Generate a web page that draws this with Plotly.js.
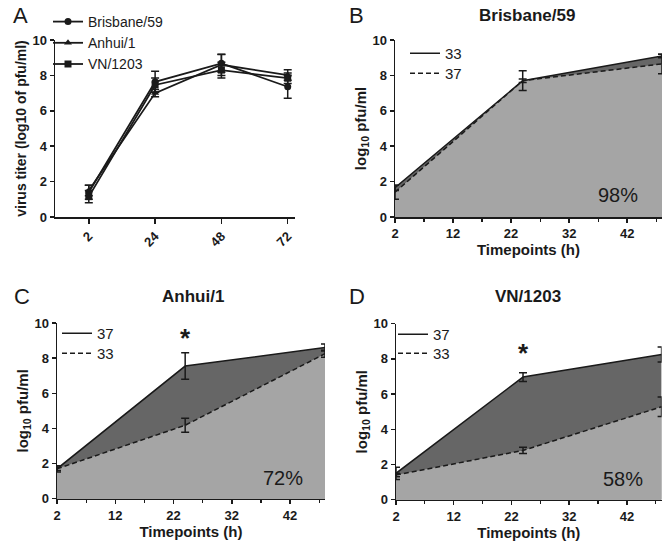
<!DOCTYPE html>
<html>
<head>
<meta charset="utf-8">
<script src="https://cdn.plot.ly/plotly-3.0.1.min.js"></script>
<style>html,body{margin:0;padding:0;background:#fff}#chart{width:670px;height:544px}</style>
</head>
<body>
<div id="chart"></div>
<script>
// ---------- Panel A data ----------
const timeA = ['2', '24', '48', '72'];
const brisbaneA = [1.4, 7.64, 8.68, 7.36];
const brisbaneAErr = [0.4, 0.6, 0.5, 0.65];
const anhuiA = [1.5, 7.0, 8.6, 8.02];
const anhuiAErr = [0.3, 0.2, 0.6, 0.3];
const vnA = [1.15, 7.46, 8.3, 7.84];
const vnAErr = [0.35, 0.4, 0.45, 0.3];

// ---------- Panels B-D data ----------
const timeBCD = [2, 24, 48];
// B: Brisbane/59
const b33 = [1.65, 7.7, 9.1];
const b33Err = [0.15, 0.1, 0.1];
const b37 = [1.4, 7.7, 8.65];
const b37Err = [0.4, 0.56, 0.55];
// C: Anhui/1
const c37 = [1.7, 7.55, 8.6];
const c37Err = [0.1, 0.75, 0.2];
const c33 = [1.7, 4.18, 8.25];
const c33Err = [0.18, 0.4, 0.2];
// D: VN/1203
const d37 = [1.5, 6.97, 8.25];
const d37Err = [0.35, 0.25, 0.42];
const d33 = [1.4, 2.8, 5.28];
const d33Err = [0.1, 0.18, 0.55];

const pctLabels = ['98%', '72%', '58%'];
const pctX = [40.4, 40.8, 41.3];
const pctY = [1.25, 1.2, 1.2];
const starX = [24, 24];
const starY = [9.15, 8.32];

const FONT = 'Liberation Sans, Arial, Helvetica, sans-serif';
const DARK = '#666666';
const LIGHT = '#a5a5a5';
const INK = '#1a1a1a';
const dashPat = '5px,3px';

function errBar(arr) {
  return {type: 'data', array: arr, visible: true, color: INK, thickness: 1.5, width: 4};
}

const traces = [];
// Panel A
const seriesA = [
  {name: 'Brisbane/59', y: brisbaneA, e: brisbaneAErr, sym: 'circle'},
  {name: 'Anhui/1', y: anhuiA, e: anhuiAErr, sym: 'triangle-up'},
  {name: 'VN/1203', y: vnA, e: vnAErr, sym: 'square'}
];
seriesA.forEach((s, i) => {
  traces.push({
    x: timeA, y: s.y, name: s.name, type: 'scatter', mode: 'lines+markers',
    xaxis: 'x', yaxis: 'y', legend: 'legend',
    line: {color: INK, width: 1.8},
    marker: {symbol: s.sym, size: 7, color: INK},
    error_y: errBar(s.e)
  });
});

function panel(xa, ya, lgSolid, lgDash, upper, upperErr, upperName, lower, lowerErr, lowerName) {
  traces.push({x: timeBCD, y: upper, type: 'scatter', mode: 'none', fill: 'tozeroy',
    fillcolor: DARK, xaxis: xa, yaxis: ya, showlegend: false, hoverinfo: 'skip'});
  traces.push({x: timeBCD, y: lower, type: 'scatter', mode: 'none', fill: 'tozeroy',
    fillcolor: LIGHT, xaxis: xa, yaxis: ya, showlegend: false, hoverinfo: 'skip'});
  traces.push({x: timeBCD, y: upper, name: upperName, type: 'scatter', mode: 'lines',
    xaxis: xa, yaxis: ya, legend: lgSolid, line: {color: INK, width: 1.5},
    error_y: errBar(upperErr)});
  traces.push({x: timeBCD, y: lower, name: lowerName, type: 'scatter', mode: 'lines',
    xaxis: xa, yaxis: ya, legend: lgDash, line: {color: INK, width: 1.5, dash: dashPat},
    error_y: errBar(lowerErr)});
}
panel('x2', 'y2', 'legend2', 'legend3', b33, b33Err, '33', b37, b37Err, '37');
panel('x3', 'y3', 'legend4', 'legend5', c37, c37Err, '37', c33, c33Err, '33');
panel('x4', 'y4', 'legend6', 'legend7', d37, d37Err, '37', d33, d33Err, '33');

const tickFont = {family: FONT, size: 13, color: INK, weight: 'bold'};
const titleFont = {family: FONT, size: 15, color: INK, weight: 'bold'};

function yAxis(domain, anchor, titleText, tsize) {
  return {
    domain: domain, anchor: anchor, range: [0, 10], dtick: 2, tick0: 0,
    showline: true, linecolor: INK, linewidth: 1.5, ticks: 'outside', ticklen: 4,
    tickwidth: 1.5, tickcolor: INK, showgrid: false, zeroline: false,
    tickfont: tickFont, fixedrange: true,
    title: {text: titleText, font: Object.assign({}, titleFont, {size: tsize}), standoff: 2}
  };
}
function xAxisNum(domain, anchor) {
  return {
    domain: domain, anchor: anchor, range: [2, 48], tick0: 2, dtick: 10,
    showline: true, linecolor: INK, linewidth: 1.5, ticks: 'outside', ticklen: 4,
    tickwidth: 1.5, tickcolor: INK, showgrid: false, zeroline: false,
    minor: {dtick: 5, tick0: 2, ticks: 'outside', ticklen: 3, tickwidth: 1.2, tickcolor: INK, showgrid: false},
    tickfont: tickFont, fixedrange: true,
    title: {text: 'Timepoints (h)', font: titleFont, standoff: 4}
  };
}

const W = 670, H = 544;
const legendBase = {bgcolor: 'rgba(0,0,0,0)', borderwidth: 0, xanchor: 'left', yanchor: 'top',
  font: {family: FONT, size: 15, color: INK}, itemwidth: 30, tracegroupgap: 0};
function lg(px, py) { return Object.assign({}, legendBase, {x: px / W, y: 1 - py / H}); }

function ann(text, px, py, size, bold) {
  return {text: text, x: px / W, y: 1 - py / H, xref: 'paper', yref: 'paper', showarrow: false,
    xanchor: 'center', yanchor: 'middle',
    font: {family: FONT, size: size, color: INK, weight: bold ? 'bold' : 'normal'}};
}
function dataAnn(text, x, y, xr, yr, size, bold) {
  return {text: text, x: x, y: y, xref: xr, yref: yr, showarrow: false, xanchor: 'center', yanchor: 'middle',
    font: {family: FONT, size: size, color: INK, weight: bold ? 'bold' : 'normal'}};
}

const layout = {
  width: W, height: H, margin: {l: 0, r: 0, t: 0, b: 0},
  paper_bgcolor: '#fff', plot_bgcolor: 'rgba(0,0,0,0)',
  font: {family: FONT, color: INK},
  xaxis: {
    domain: [55 / W, 295 / W], anchor: 'y', type: 'category', range: [-0.51, 3.11],
    showline: true, linecolor: INK, linewidth: 1.5, ticks: 'outside', ticklen: 5,
    tickwidth: 1.5, tickcolor: INK, showgrid: false, zeroline: false,
    tickangle: -45, tickfont: tickFont, fixedrange: true
  },
  yaxis: yAxis([1 - 217 / H, 1 - 40 / H], 'x', 'virus titer (log10 of pfu/ml)', 14),
  xaxis2: xAxisNum([395 / W, 662 / W], 'y2'),
  yaxis2: yAxis([1 - 217 / H, 1 - 40 / H], 'x2', 'log<sub>10</sub> pfu/ml', 15),
  xaxis3: xAxisNum([57 / W, 325 / W], 'y3'),
  yaxis3: yAxis([1 - 498.7 / H, 1 - 323 / H], 'x3', 'log<sub>10</sub> pfu/ml', 15),
  xaxis4: xAxisNum([396 / W, 661.6 / W], 'y4'),
  yaxis4: yAxis([1 - 499.7 / H, 1 - 323.7 / H], 'x4', 'log<sub>10</sub> pfu/ml', 15),
  legend: Object.assign({}, legendBase, {x: 48 / W, y: 1 - 6 / H, font: {family: FONT, size: 14, color: INK}}),
  legend2: lg(405, 37),
  legend3: lg(405, 57),
  legend4: lg(57, 317),
  legend5: lg(57, 337),
  legend6: lg(393, 318),
  legend7: lg(393, 337),
  showlegend: true,
  annotations: [
    ann('A', 20, 15, 22, false),
    ann('B', 356, 15, 22, false),
    ann('C', 22, 296, 22, false),
    ann('D', 357, 296, 22, false),
    ann('Brisbane/59', 527, 15, 17, true),
    ann('Anhui/1', 193, 296, 17, true),
    ann('VN/1203', 528, 296, 17, true),
    dataAnn(pctLabels[0], pctX[0], pctY[0], 'x2', 'y2', 20, false),
    dataAnn(pctLabels[1], pctX[1], pctY[1], 'x3', 'y3', 20, false),
    dataAnn(pctLabels[2], pctX[2], pctY[2], 'x4', 'y4', 20, false),
    dataAnn('*', starX[0], starY[0], 'x3', 'y3', 26, true),
    dataAnn('*', starX[1], starY[1], 'x4', 'y4', 26, true)
  ]
};

Plotly.newPlot('chart', traces, layout, {displayModeBar: false, staticPlot: true});
</script>
</body>
</html>
